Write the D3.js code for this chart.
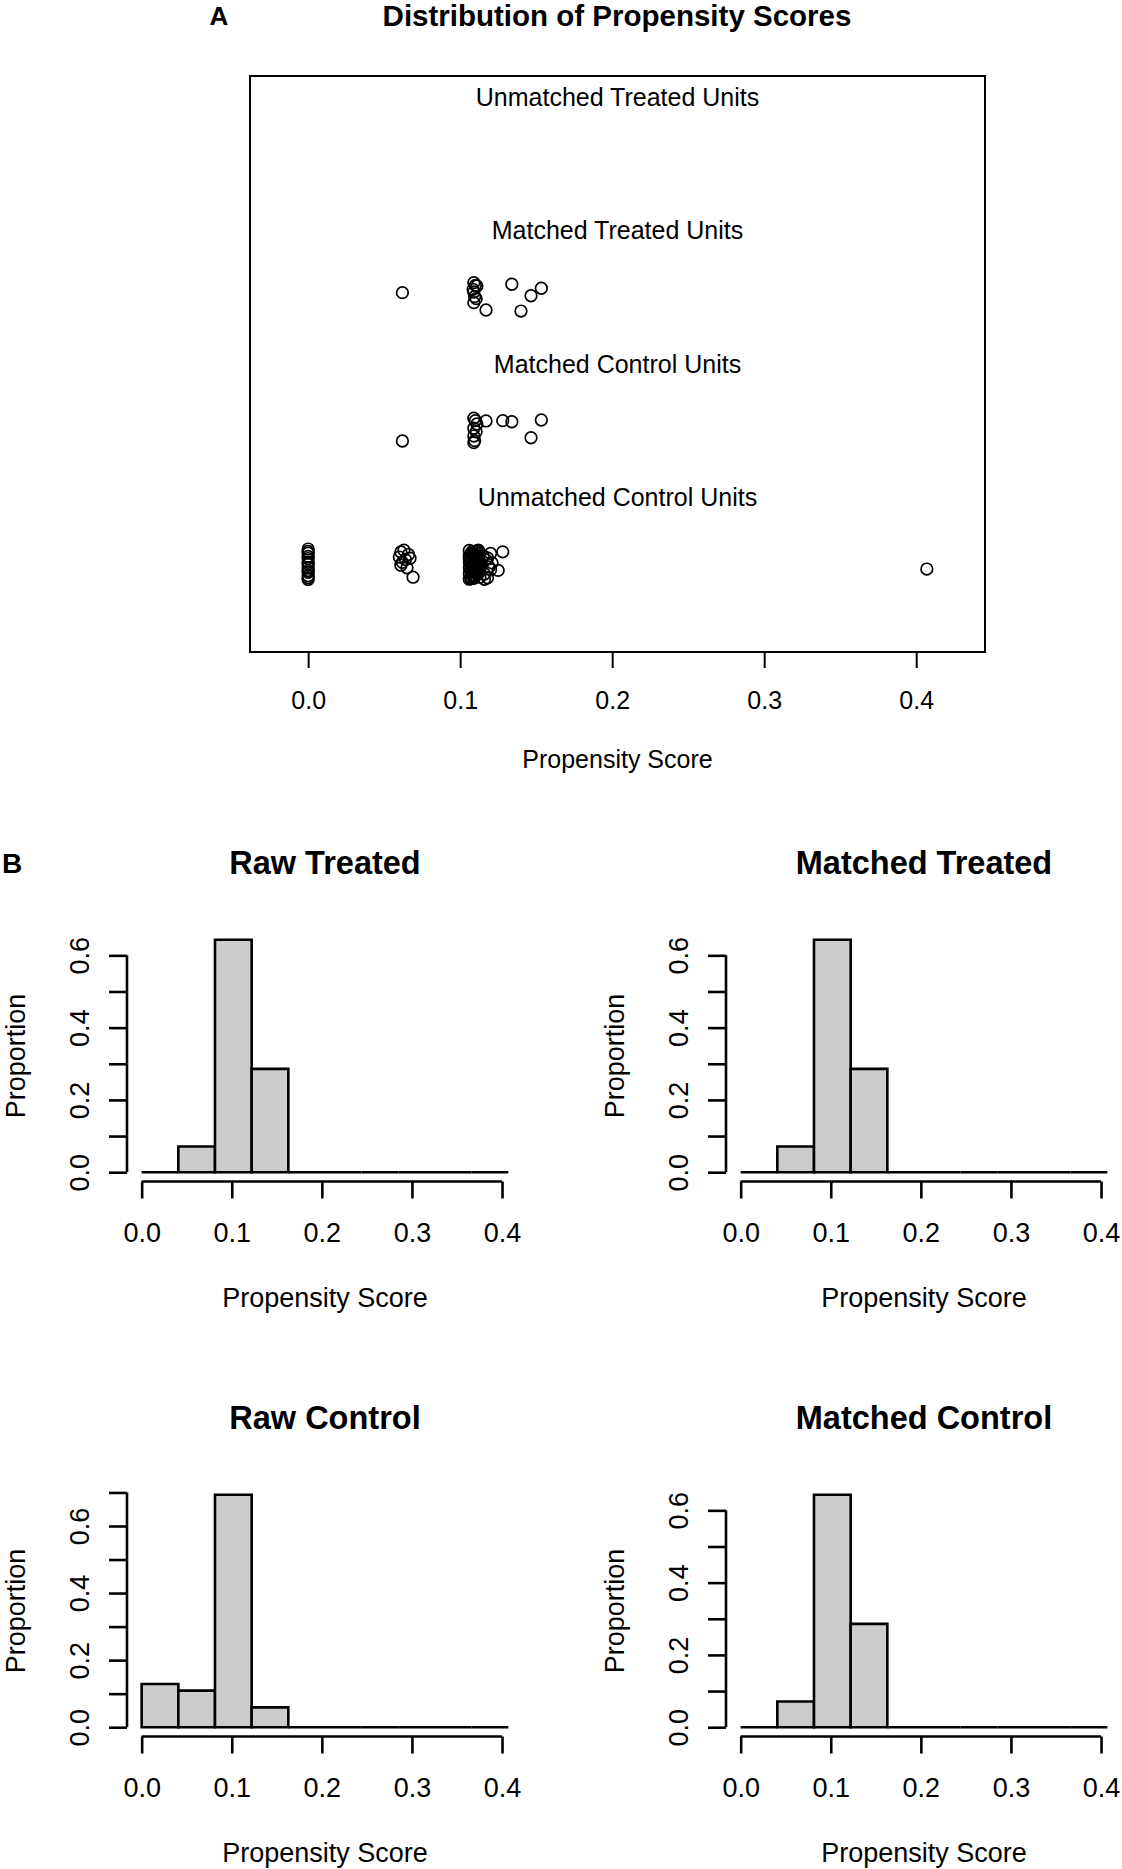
<!DOCTYPE html>
<html>
<head>
<meta charset="utf-8">
<script src="https://cdn.jsdelivr.net/npm/d3@7"></script>
<style>
  body { margin: 0; background: #fff; }
  text { font-family: "Liberation Sans", Arial, Helvetica, sans-serif; fill: #000; }
</style>
</head>
<body>
<script>
// ---- data ----
let groupLabels = ["Unmatched Treated Units", "Matched Treated Units", "Matched Control Units", "Unmatched Control Units"];
let groupLabelY = [4.5, 3.5, 2.5, 1.5];
let xTicks = [0, 0.1, 0.2, 0.3, 0.4];

// propensity scores (x) and vertical jitter (y) per group
let unmatchedTreatedScore = [];
let unmatchedTreatedJitter = [];

let matchedTreatedScore = [0.062, 0.109, 0.110, 0.111, 0.109, 0.1095, 0.109, 0.1085, 0.1105,
  0.117, 0.134, 0.1466, 0.1534, 0.140];
let matchedTreatedJitter = [3.035, 3.11, 3.09, 3.085, 3.04, 3.005, 2.96, 3.06, 2.99,
  2.905, 3.098, 3.012, 3.068, 2.897];

let matchedControlScore = [0.062, 0.109, 0.110, 0.111, 0.109, 0.1105, 0.109, 0.1095, 0.109,
  0.117, 0.128, 0.134, 0.1534, 0.1466];
let matchedControlJitter = [1.9225, 2.093, 2.075, 2.05, 2.018, 1.992, 1.96, 1.925, 1.91,
  2.073, 2.075, 2.067, 2.08, 1.947];

let unmatchedControlScore = [
  0, 0, 0, 0, 0, 0, 0, 0, 0, 0, 0, 0, 0,
  0.061, 0.063, 0.066, 0.060, 0.064, 0.062, 0.067, 0.061, 0.065, 0.069,
  0.106, 0.108, 0.110, 0.107, 0.109, 0.111, 0.106, 0.108, 0.110, 0.112,
  0.107, 0.109, 0.106, 0.111, 0.108, 0.110, 0.107, 0.109, 0.106, 0.112,
  0.108, 0.110, 0.107, 0.109, 0.106, 0.111, 0.108, 0.110, 0.107, 0.109,
  0.106, 0.111, 0.113, 0.112, 0.113, 0.112, 0.113, 0.112, 0.113, 0.108,
  0.110, 0.107, 0.109, 0.111, 0.106, 0.108, 0.110, 0.112, 0.109, 0.107,
  0.115, 0.116, 0.117, 0.118, 0.118, 0.119, 0.120, 0.121, 0.116, 0.120, 0.114, 0.125, 0.128,
  0.407];
let unmatchedControlJitter = [
  1.112, 1.094, 1.081, 1.057, 1.041, 1.012, 0.998, 0.973, 0.951, 0.938, 0.912, 0.897, 0.884,
  1.090, 1.104, 1.071, 1.052, 1.033, 1.012, 1.043, 0.991, 0.972, 0.901,
  1.102, 1.095, 1.088, 1.079, 1.071, 1.064, 1.058, 1.050, 1.043, 1.037,
  1.030, 1.022, 1.015, 1.009, 1.001, 0.994, 0.987, 0.979, 0.972, 0.966,
  0.958, 0.951, 0.944, 0.936, 0.929, 0.922, 0.915, 0.907, 0.900, 0.893,
  0.886, 1.098, 1.082, 1.047, 1.018, 0.985, 0.955, 0.928, 0.901, 1.076,
  1.026, 0.962, 0.911, 0.948, 1.040, 0.983, 1.066, 1.104, 1.003, 0.890,
  1.062, 0.925, 1.031, 0.897, 1.045, 0.978, 0.957, 1.008, 0.885, 1.079, 0.995, 0.952, 1.091,
  0.962];

// histogram breaks and bin proportions
let breaks = [0, 0.0407, 0.0814, 0.1221, 0.1628, 0.2035, 0.2442, 0.2849, 0.3256, 0.3663, 0.407];
let rawTreatedProp     = [0, 0.071, 0.643, 0.286, 0, 0, 0, 0, 0, 0];
let matchedTreatedProp = [0, 0.071, 0.643, 0.286, 0, 0, 0, 0, 0, 0];
let rawControlProp     = [0.129, 0.109, 0.693, 0.059, 0, 0, 0, 0, 0, 0];
let matchedControlProp = [0, 0.071, 0.643, 0.286, 0, 0, 0, 0, 0, 0];

// ---- svg ----
let svg = d3.select("body").append("svg")
  .attr("width", 1122)
  .attr("height", 1869);

let fmt = d3.format(".1f");
let allScores = [].concat(unmatchedTreatedScore, matchedTreatedScore, matchedControlScore, unmatchedControlScore);
let r = d3.extent(allScores);

// ================= Panel A =================
let boxA = { left: 250, right: 985, top: 76, bottom: 652 };

// xlim = range +/- 5%, then 4% axis expansion like R
let padA = (r[1] - r[0]) * 0.05;
let xlimA = [r[0] - padA, r[1] + padA];
let extA = (xlimA[1] - xlimA[0]) * 0.04;
let xA = d3.scaleLinear()
  .domain([xlimA[0] - extA, xlimA[1] + extA])
  .range([boxA.left, boxA.right]);
let yA = d3.scaleLinear()
  .domain([0.34, 4.66])
  .range([boxA.bottom, boxA.top]);

svg.append("text")
  .attr("x", 219).attr("y", 16).attr("dy", "0.35em")
  .attr("text-anchor", "middle")
  .style("font-weight", "bold").style("font-size", "26px")
  .text("A");

svg.append("text")
  .attr("x", 617).attr("y", 16).attr("dy", "0.35em")
  .attr("text-anchor", "middle")
  .style("font-weight", "bold").style("font-size", "29.5px")
  .text("Distribution of Propensity Scores");

svg.append("rect")
  .attr("x", boxA.left).attr("y", boxA.top)
  .attr("width", boxA.right - boxA.left).attr("height", boxA.bottom - boxA.top)
  .attr("fill", "none").attr("stroke", "#000").attr("stroke-width", 2);

svg.selectAll(".group-label")
  .data(groupLabels).enter().append("text")
  .attr("class", "group-label")
  .attr("x", (boxA.left + boxA.right) / 2)
  .attr("y", (d, i) => yA(groupLabelY[i]))
  .attr("dy", "0.35em")
  .attr("text-anchor", "middle")
  .style("font-size", "25px")
  .text(d => d);

// all point groups
let groups = [
  [unmatchedTreatedScore, unmatchedTreatedJitter],
  [matchedTreatedScore, matchedTreatedJitter],
  [matchedControlScore, matchedControlJitter],
  [unmatchedControlScore, unmatchedControlJitter]
];
groups.forEach(function (g) {
  svg.append("g").selectAll("circle")
    .data(g[0]).enter().append("circle")
    .attr("cx", d => xA(d))
    .attr("cy", (d, i) => yA(g[1][i]))
    .attr("r", 5.8)
    .attr("fill", "none")
    .attr("stroke", "#000")
    .attr("stroke-width", 1.7);
});

let axA = svg.append("g")
  .attr("transform", "translate(0," + boxA.bottom + ")")
  .call(d3.axisBottom(xA).tickValues(xTicks).tickSize(16).tickPadding(23).tickFormat(fmt));
axA.select(".domain").remove();
axA.selectAll("line").attr("stroke-width", 2);
axA.selectAll("text").style("font-size", "25px").attr("font-family", null);

svg.append("text")
  .attr("x", (boxA.left + boxA.right) / 2).attr("y", 759).attr("dy", "0.35em")
  .attr("text-anchor", "middle")
  .style("font-size", "25px")
  .text("Propensity Score");

// ================= Panel B =================
svg.append("text")
  .attr("x", 2).attr("y", 863).attr("dy", "0.35em")
  .style("font-weight", "bold").style("font-size", "28px")
  .text("B");

let plotW = 396, plotH = 251;
let extH = (r[1] - r[0]) * 0.04;

function drawHist(props, title, ox, oy) {
  let maxP = d3.max(props);
  let x = d3.scaleLinear().domain([r[0] - extH, r[1] + extH]).range([ox, ox + plotW]);
  let y = d3.scaleLinear().domain([-0.04 * maxP, 1.04 * maxP]).range([oy, oy - plotH]);
  let g = svg.append("g");

  // bars (zero-height bins still drawn as a line)
  g.selectAll("path.bar")
    .data(props).enter().append("path")
    .attr("class", "bar")
    .attr("d", (d, i) => "M" + x(breaks[i]) + "," + y(0) + "H" + x(breaks[i + 1]) +
      "V" + y(d) + "H" + x(breaks[i]) + "Z")
    .attr("fill", "#cbccce")
    .attr("stroke", "#000")
    .attr("stroke-width", 2.6)
    .attr("stroke-linejoin", "miter");

  // x axis
  let ax = g.append("g")
    .attr("transform", "translate(0," + oy + ")")
    .call(d3.axisBottom(x).tickValues(xTicks).tickSize(17).tickPadding(24).tickFormat(fmt));
  ax.select(".domain").remove();
  ax.append("line")
    .attr("x1", x(xTicks[0])).attr("x2", x(xTicks[xTicks.length - 1]))
    .attr("stroke", "#000").attr("stroke-width", 2.6);
  ax.selectAll("line").attr("stroke-width", 2.6);
  ax.selectAll("text").style("font-size", "27px").attr("font-family", null);

  // y axis
  let yt = y.ticks(8).filter(d => d >= 0);
  let ay = g.append("g")
    .attr("transform", "translate(" + ox + ",0)")
    .call(d3.axisLeft(y).tickValues(yt).tickSize(18)
      .tickFormat(d => Math.round(d * 10) % 2 === 0 ? fmt(d) : ""));
  ay.select(".domain").remove();
  ay.append("line")
    .attr("y1", y(yt[0])).attr("y2", y(yt[yt.length - 1]))
    .attr("stroke", "#000").attr("stroke-width", 2.6);
  ay.selectAll("line").attr("stroke-width", 2.6);
  ay.selectAll("text")
    .attr("font-family", null)
    .style("font-size", "27px")
    .attr("transform", "rotate(-90)")
    .attr("text-anchor", "middle")
    .attr("x", 0)
    .attr("y", -47)
    .attr("dy", "0.35em");

  g.append("text")
    .attr("x", ox + plotW / 2).attr("y", oy - 318.5).attr("dy", "0.35em")
    .attr("text-anchor", "middle")
    .style("font-weight", "bold").style("font-size", "32.5px")
    .text(title);

  g.append("text")
    .attr("x", ox + plotW / 2).attr("y", oy + 116.5).attr("dy", "0.35em")
    .attr("text-anchor", "middle")
    .style("font-size", "27px")
    .text("Propensity Score");

  // baseline placed so the whole label stays inside the page
  g.append("text")
    .attr("transform", "translate(" + (ox - 102) + "," + (oy - plotH / 2) + ") rotate(-90)")
    .attr("text-anchor", "middle")
    .style("font-size", "27px")
    .text("Proportion");
}

drawHist(rawTreatedProp, "Raw Treated", 127, 1181.5);
drawHist(matchedTreatedProp, "Matched Treated", 726, 1181.5);
drawHist(rawControlProp, "Raw Control", 127, 1736.5);
drawHist(matchedControlProp, "Matched Control", 726, 1736.5);
</script>
</body>
</html>
